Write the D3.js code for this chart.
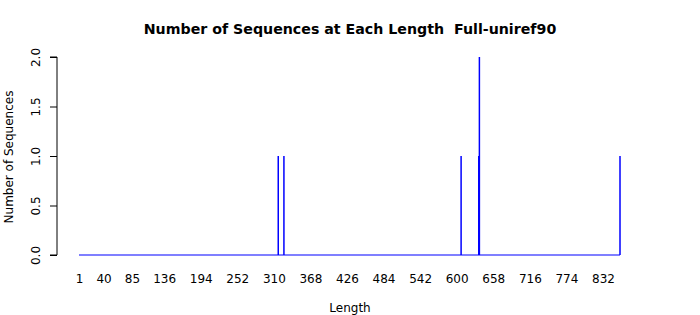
<!DOCTYPE html>
<html><head><meta charset="utf-8">
<script src="https://cdn.jsdelivr.net/npm/d3@7"></script>
<style>body{margin:0;background:#fff}svg{display:block}text{font-family:"DejaVu Sans",sans-serif;fill:#000;white-space:pre}</style>
</head><body>
<svg id="c" width="700" height="315"></svg>
<script>
const title = "Number of Sequences at Each Length  Full-uniref90";
const xTitle = "Length";
const yTitle = "Number of Sequences";
const lengthRange = [1, 859];
const lengths = [317, 326, 607, 635, 636, 859];
const counts = [1, 1, 1, 1, 2, 1];
const xTickLabels = [1, 40, 85, 136, 194, 252, 310, 368, 426, 484, 542, 600, 658, 716, 774, 832];
const yTicks = [0, 0.5, 1, 1.5, 2];

const svg = d3.select("#c");
const x = d3.scaleLinear().domain(lengthRange).range([79, 620]);
const y = d3.scaleLinear().domain([0, 2]).range([255, 57]);
const blue = "#0000ff";

// baseline
svg.append("line")
  .attr("x1", x(lengthRange[0])).attr("x2", x(lengthRange[1]))
  .attr("y1", y(0)).attr("y2", y(0))
  .attr("stroke", blue).attr("stroke-width", 1.2);

// spikes
svg.selectAll("line.spike").data(lengths).enter().append("line")
  .attr("class", "spike")
  .attr("x1", d => x(d)).attr("x2", d => x(d))
  .attr("y1", y(0)).attr("y2", (d, i) => y(counts[i]))
  .attr("stroke", blue).attr("stroke-width", 1.5);

// y axis
const yAxis = d3.axisLeft(y).tickValues(yTicks).tickFormat(d3.format(".1f")).tickSize(7).tickPadding(0);
const ya = svg.append("g").attr("transform", "translate(57,0)").call(yAxis);
ya.select(".domain").attr("stroke", "#000");
ya.selectAll(".tick line").attr("stroke", "#000");
ya.selectAll(".tick text")
  .attr("font-size", 12).attr("font-family", "DejaVu Sans")
  .attr("text-anchor", "middle").attr("dy", null).attr("x", null)
  .attr("transform", "translate(-21,0) rotate(-90)")
  .attr("dominant-baseline", "central");
ya.select(".domain").attr("d", `M-7,${y(2)}H0V${y(0)}H-7`);

// x axis labels (no line, no ticks)
const xAxis = d3.axisBottom(x).tickValues(xTickLabels).tickSize(0).tickPadding(0);
const xa = svg.append("g").attr("transform", "translate(0,274)").call(xAxis);
xa.select(".domain").remove();
xa.selectAll(".tick text").attr("font-size", 12).attr("font-family", "DejaVu Sans").attr("dy", "0.71em").attr("y", 0);

// titles
svg.append("text").attr("x", 350).attr("y", 34).attr("text-anchor", "middle")
  .attr("font-size", 14.2).attr("font-weight", "bold").text(title);
svg.append("text").attr("x", 350).attr("y", 312).attr("text-anchor", "middle")
  .attr("font-size", 12).text(xTitle);
svg.append("text").attr("transform", "translate(13,157) rotate(-90)").attr("text-anchor", "middle")
  .attr("font-size", 12).text(yTitle);
</script>
</body></html>
